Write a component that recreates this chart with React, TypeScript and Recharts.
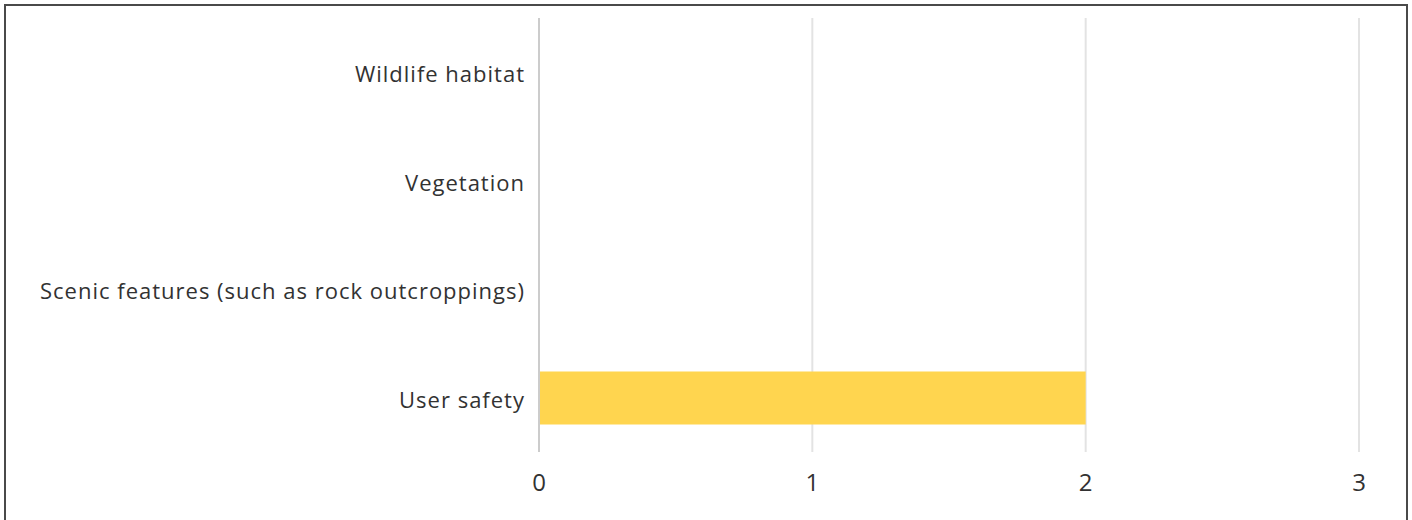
import { BarChart, Bar, XAxis, YAxis, CartesianGrid } from "recharts";

const CATEGORIES = [
  "Wildlife habitat",
  "Vegetation",
  "Scenic features (such as rock outcroppings)",
  "User safety",
];
const COUNTS = [0, 0, 0, 2];
const X_TICKS = [0, 1, 2, 3];

const BAR_COLOR = "#ffd54f";
const TEXT_COLOR = "#323232";
const FONT = "'Open Sans', Lato, sans-serif";

const data = CATEGORIES.map((name, i) => ({ name, count: COUNTS[i] }));

export default function App() {
  return (
    <div
      style={{
        position: "fixed",
        left: 4,
        top: 4,
        width: 1404,
        height: 540,
        boxSizing: "border-box",
        border: "2px solid #4a4a4a",
        background: "#fff",
      }}
    >
      <BarChart
        width={1400}
        height={520}
        data={data}
        layout="vertical"
        margin={{ top: 12, right: 47, bottom: 0, left: 0 }}
        style={{ fontFamily: FONT }}
      >
        <CartesianGrid horizontal={false} stroke="#e3e3e3" strokeWidth={2} />
        <XAxis
          type="number"
          domain={[0, 3]}
          ticks={X_TICKS}
          axisLine={false}
          tickLine={false}
          tickSize={0}
          tickMargin={22}
          tick={{ fill: TEXT_COLOR, fontSize: 24 }}
          height={74}
        />
        <YAxis
          type="category"
          dataKey="name"
          width={533}
          axisLine={{ stroke: "#cccccc", strokeWidth: 2 }}
          tickLine={false}
          tickSize={0}
          tickMargin={14}
          tick={{ fill: TEXT_COLOR, fontSize: 22, letterSpacing: 1, dy: 2 }}
        />
        <Bar
          dataKey="count"
          fill={BAR_COLOR}
          barSize={53}
          isAnimationActive={false}
        />
      </BarChart>
    </div>
  );
}
